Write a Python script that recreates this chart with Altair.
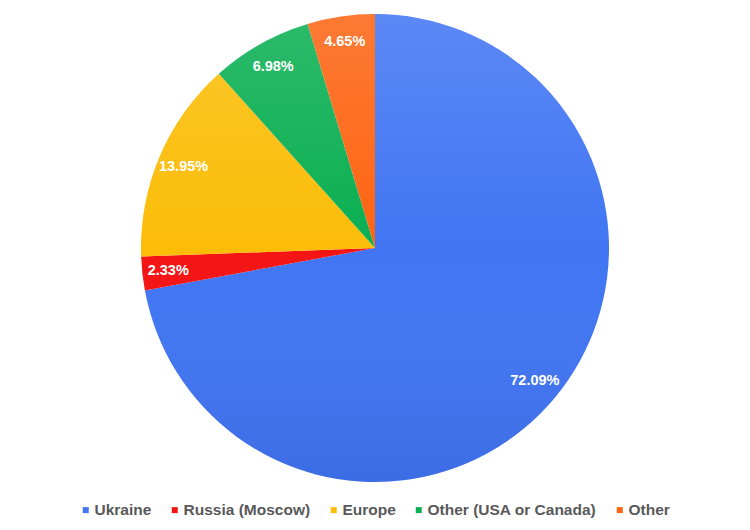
import altair as alt
import pandas as pd

# slice data, clockwise from 12 o'clock
regions = ["Ukraine", "Russia (Moscow)", "Europe", "Other (USA or Canada)", "Other"]
shares = [72.09, 2.33, 13.95, 6.98, 4.65]
colors = ["#4175f3", "#f41414", "#fbbd08", "#0aaf52", "#fd6412"]

df = pd.DataFrame({
    "region": regions,
    "share": shares,
    "order": list(range(len(regions))),
})
df["label"] = [f"{v:.2f}%" for v in shares]

CX, CY, R = 367, 240, 234

base = alt.Chart(df).encode(
    theta=alt.Theta("share:Q", stack=True),
    order=alt.Order("order:Q"),
    x=alt.value(CX),
    y=alt.value(CY),
)

slices = base.mark_arc(outerRadius=R).encode(
    color=alt.Color(
        "region:N",
        sort=regions,
        scale=alt.Scale(domain=regions, range=colors),
        legend=alt.Legend(
            title=None,
            orient="none",
            legendX=70,
            legendY=494,
            direction="horizontal",
            symbolType="square",
            symbolSize=36,
            symbolStrokeWidth=0,
            labelFont="Liberation Sans",
            labelFontSize=15.5,
            labelFontWeight="bold",
            labelColor="#595959",
            labelLimit=0,
            labelOffset=1,
            columnPadding=15,
        ),
    )
)

# soft vertical shading like the original (lighter top, darker bottom)
shade = alt.Gradient(
    gradient="linear",
    x1=0, y1=0, x2=0, y2=1,
    stops=[
        alt.GradientStop(color="rgba(255,255,255,0.14)", offset=0),
        alt.GradientStop(color="rgba(255,255,255,0)", offset=0.5),
        alt.GradientStop(color="rgba(0,0,40,0.08)", offset=1),
    ],
)
overlay = alt.Chart(df).mark_arc(outerRadius=R, fill=shade).encode(
    theta=alt.Theta("total:Q"),
    x=alt.value(CX),
    y=alt.value(CY),
).transform_aggregate(total="sum(share)")

labels = base.mark_text(
    radius=208,
    color="white",
    font="Liberation Sans",
    fontSize=14.5,
    fontWeight="bold",
).encode(text="label:N")

chart = alt.layer(slices, overlay, labels).properties(
    width=734,
    height=514,
    padding=0,
    autosize=alt.AutoSizeParams(type="none"),
).configure_view(stroke=None)

chart.save("out.html", embed_options={"renderer": "svg", "actions": False})
